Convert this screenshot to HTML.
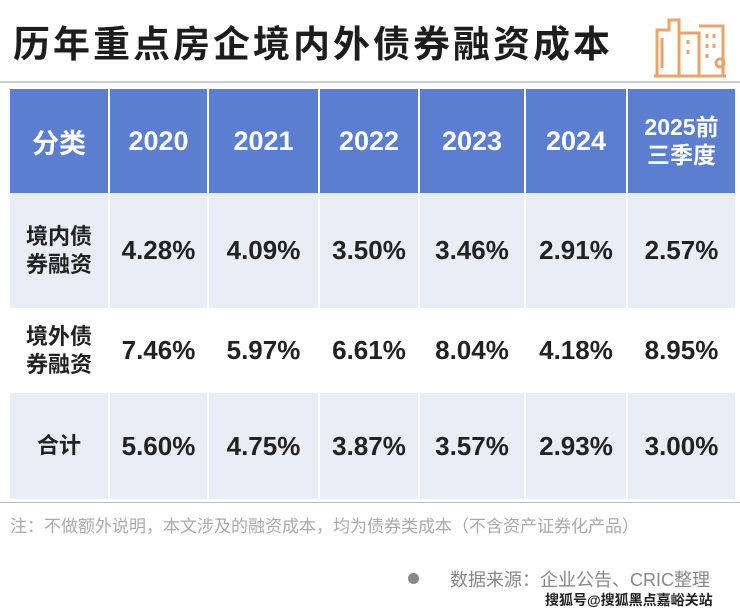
<!DOCTYPE html>
<html><head><meta charset="utf-8"><style>
body{margin:0;width:740px;height:613px;background:#fff;position:relative;overflow:hidden;font-family:"Liberation Sans","Noto Sans CJK SC",sans-serif}
.t{position:absolute;left:13px;top:14px;font-size:37px;font-weight:bold;letter-spacing:3px;color:#1d1d1d;white-space:nowrap}
.sep{position:absolute;left:0;top:81px;width:740px;height:2px;background:#cfcfcf}
table{position:absolute;left:10px;top:89px;border-collapse:collapse;width:725px}
td{text-align:center;padding:0;border-left:2px solid #fff;font-size:26px;font-weight:bold;color:#222}
td:first-child{border-left:none}
tr.h td{background:#5b7ed0;color:#fff;height:104px;font-size:27px}
tr.a td{background:#e9edf6}
tr.r1 td{height:115px}tr.r2 td{height:85px}tr.r3 td{height:106px}
.c{font-size:22px;line-height:28px}
.bl{position:absolute;left:0;top:502px;width:740px;height:1px;background:#bbb}
.n{position:absolute;left:10px;top:512px;font-size:17px;color:#aaa;white-space:nowrap}
.s{position:absolute;left:450px;top:566px;font-size:18px;color:#888;white-space:nowrap}
.d{position:absolute;left:408px;top:573px;width:11px;height:11px;border-radius:50%;background:#888}
.w{position:absolute;left:545px;top:590px;font-size:14px;font-weight:bold;color:#222;white-space:nowrap}
</style></head><body>
<div class="t">历年重点房企境内外债券融资成本</div>
<svg style="position:absolute;left:652px;top:8px" width="75" height="70" viewBox="0 0 75 70" fill="none" stroke="#e8a46a" stroke-width="3">
<path d="M5 68V22h12V12h10v56M27 25h20v43M47 18h24v50M2 68h72M10 30v30M36 32v4M36 42v4M55 26v4M62 26v4M55 36v4M62 36v4M55 46v4"/><circle cx="68" cy="55" r="4"/></svg>
<div class="sep"></div>
<table>
<tr class="h"><td style="width:98px">分类</td><td style="width:97px">2020</td><td style="width:109px">2021</td><td style="width:98px">2022</td><td style="width:104px">2023</td><td style="width:100px">2024</td><td class="c" style="font-size:23px">2025前<br>三季度</td></tr>
<tr class="a r1"><td class="c">境内债<br>券融资</td><td>4.28%</td><td>4.09%</td><td>3.50%</td><td>3.46%</td><td>2.91%</td><td>2.57%</td></tr>
<tr class="r2"><td class="c">境外债<br>券融资</td><td>7.46%</td><td>5.97%</td><td>6.61%</td><td>8.04%</td><td>4.18%</td><td>8.95%</td></tr>
<tr class="a r3"><td class="c">合计</td><td>5.60%</td><td>4.75%</td><td>3.87%</td><td>3.57%</td><td>2.93%</td><td>3.00%</td></tr>
</table>
<div class="bl"></div>
<div class="n">注：不做额外说明，本文涉及的融资成本，均为债券类成本（不含资产证券化产品）</div>
<div class="d"></div>
<div class="s">数据来源：企业公告、CRIC整理</div>
<div class="w">搜狐号@搜狐黑点嘉峪关站</div>
</body></html>
